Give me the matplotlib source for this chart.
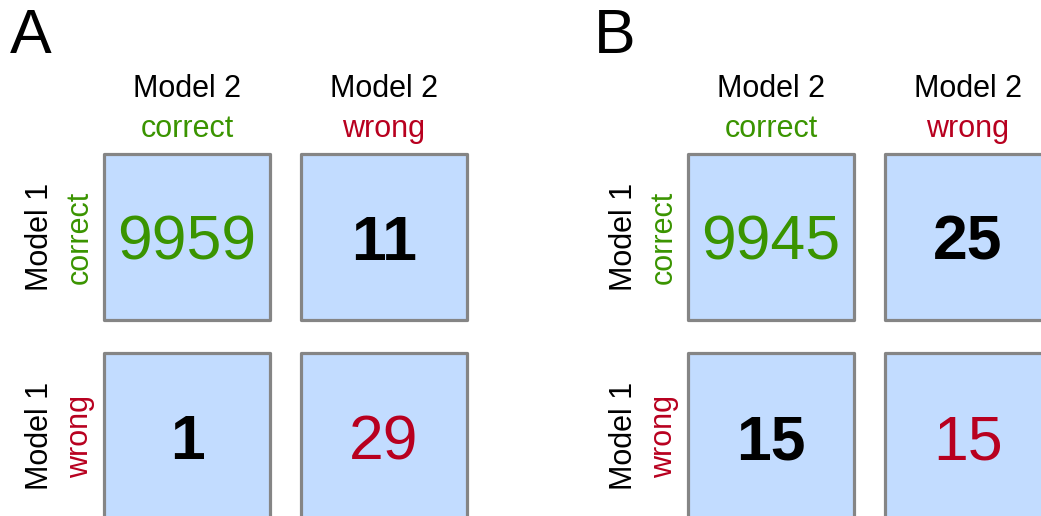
import matplotlib
matplotlib.use('Agg')
import matplotlib.pyplot as plt
from matplotlib.patches import Rectangle

plt.rcParams['font.family'] = ['Liberation Sans', 'DejaVu Sans']

# contingency tables: rows = model 1 (correct, wrong), cols = model 2 (correct, wrong)
panel_labels = ['A', 'B']
counts_a = [[9959, 11], [1, 29]]
counts_b = [[9945, 25], [15, 15]]
outcomes = ['correct', 'wrong']

GREEN = '#3a9400'
RED = '#b8001f'
BOX_FILL = '#c2dcff'
BOX_EDGE = '#858585'

fig = plt.figure(figsize=(10.41, 5.16), dpi=100)
ax = fig.add_axes([0, 0, 1, 1])
ax.set_xlim(0, 1041)
ax.set_ylim(516, 0)
ax.axis('off')

box = 166
pitch_x = 197
pitch_y = 199
panel_off = 584


def draw_panel(x_off, label, counts):
    x0 = 104 + x_off
    y0 = 154
    ax.text(x_off + 10, 53, label, fontsize=45, ha='left', va='baseline')
    for j, oc in enumerate(outcomes):
        cx = x0 + j * pitch_x + box / 2
        col = GREEN if oc == 'correct' else RED
        ax.text(cx, 97, 'Model 2', fontsize=22, ha='center', va='baseline')
        ax.text(cx, 137, oc, fontsize=22, ha='center', va='baseline', color=col)
    for i, oc in enumerate(outcomes):
        cy = y0 + i * pitch_y + box / 2
        col = GREEN if oc == 'correct' else RED
        ax.text(x_off + 48, cy, 'Model 1', fontsize=22, rotation=90,
                rotation_mode='anchor', ha='center', va='baseline')
        ax.text(x_off + 88, cy, oc, fontsize=22, rotation=90,
                rotation_mode='anchor', ha='center', va='baseline', color=col)
    for i in range(2):
        for j in range(2):
            bx = x0 + j * pitch_x
            by = y0 + i * pitch_y
            ax.add_patch(Rectangle((bx, by), box, box, facecolor=BOX_FILL,
                                   edgecolor=BOX_EDGE, linewidth=2.3,
                                   joinstyle='round'))
            v = counts[i][j]
            if i == j:
                col = GREEN if i == 0 else RED
                weight = 'normal'
            else:
                col = 'black'
                weight = 'bold'
            ax.text(bx + box / 2, by + 106, str(v), fontsize=45, ha='center',
                    va='baseline', color=col, fontweight=weight)


draw_panel(0, panel_labels[0], counts_a)
draw_panel(panel_off, panel_labels[1], counts_b)

fig.savefig('out.png', dpi=100)
